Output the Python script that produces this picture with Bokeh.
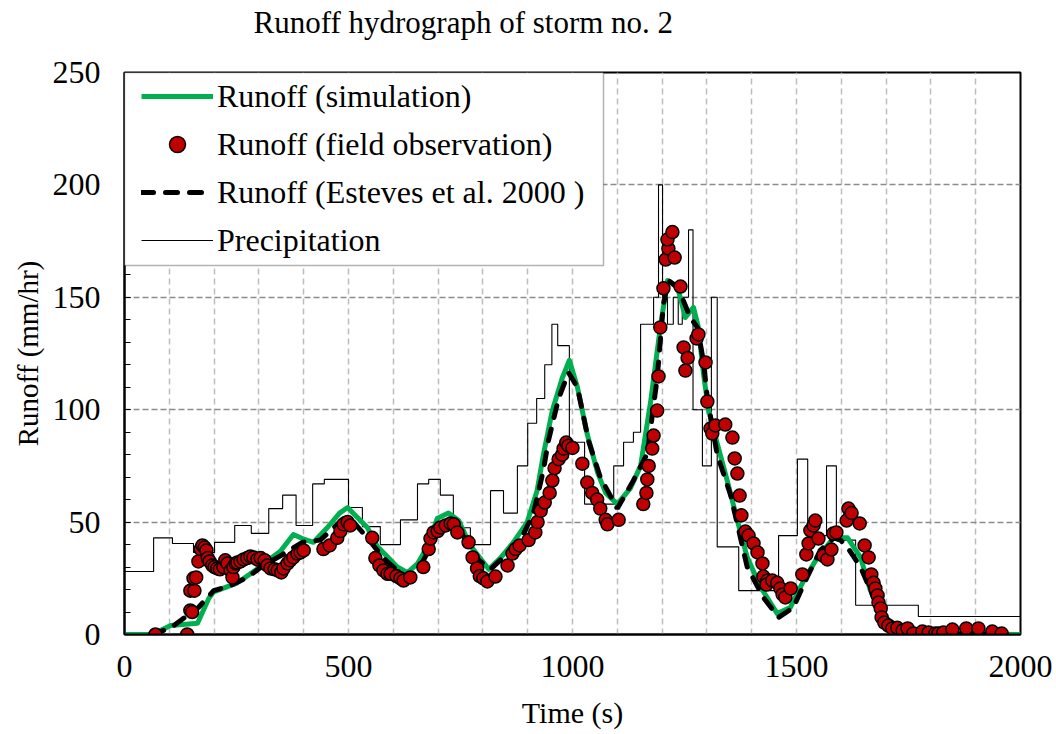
from bokeh.plotting import figure
from bokeh.models import FixedTicker, Legend, LegendItem, BoxAnnotation, Title
from bokeh.embed import file_html
from bokeh.resources import INLINE

# ---------------- data ----------------
precip_t = [0, 65, 107, 154, 201, 246, 283, 322, 353, 383, 420, 446, 500, 531, 571, 616, 654, 679, 705, 734,
            772, 817, 846, 877, 900, 920, 938, 954, 967, 993, 1027, 1092, 1114, 1136, 1152, 1181, 1192, 1201, 1212, 1225,
            1236, 1245, 1259, 1269, 1290, 1310, 1323, 1371, 1460, 1502, 1525, 1567, 1589, 1632, 1772, 2000]
precip_v = [28, 43, 40.5, 36.5, 41, 48.5, 45, 56, 62, 48.5, 67, 69, 56.5, 48, 40, 51, 67, 69, 62, 47.5,
            40, 64, 54, 75, 94, 105, 120, 138, 128.5, 85.5, 58, 75, 85.5, 90, 138, 150, 200, 150, 138, 150,
            138, 150, 180, 100, 75, 150, 39, 19.5, 44, 78, 44, 75, 42, 13, 8, 8]

sim_t = [0, 62, 103, 163, 188, 199, 252, 292, 310, 348, 377, 397, 422, 453, 480, 498, 520, 542, 565, 609,
         632, 654, 676, 698, 723, 746, 772, 813, 839, 868, 899, 921, 935, 955, 977, 993, 1011, 1033, 1056, 1074,
         1100, 1129, 1152, 1174, 1196, 1212, 1234, 1252, 1270, 1281, 1293, 1304, 1323, 1346, 1368, 1390, 1420, 1457, 1486, 1516,
         1547, 1583, 1614, 1643, 1665, 1694, 1725, 1777, 1850, 2000]
sim_v = [0, 0, 4, 5, 16, 19, 23, 28.5, 31.5, 37, 44.5, 42.7, 41, 47.6, 54, 56.5, 52, 47.6, 39, 30,
         27.5, 31.5, 39, 51.6, 54, 50.7, 39.6, 29, 34, 41, 50, 64, 80, 99.6, 114, 122, 110, 89, 72, 63,
         58, 65, 75, 103, 136.6, 157.5, 155, 141, 145.5, 136.6, 115, 99.6, 85, 68, 50.7, 34.3, 21, 9.3, 12, 24,
         34.3, 43, 43, 34.3, 19.6, 7.6, 4, 1, 0.3, 0]

est_t = [62, 103, 165, 199, 237, 274, 310, 348, 397, 437, 489, 511, 542, 578, 623, 638, 661, 679, 705, 728,
         750, 783, 817, 862, 884, 913, 935, 946, 969, 991, 1011, 1036, 1062, 1100, 1136, 1167, 1189, 1203, 1214, 1236,
         1263, 1279, 1293, 1301, 1323, 1353, 1390, 1426, 1460, 1493, 1520, 1553, 1583, 1598, 1614, 1643, 1672, 1703, 1748, 1815,
         1904, 1950]
est_v = [0, 3, 12, 19.5, 21.8, 25.4, 30.7, 35, 41, 42, 51.6, 50, 43, 34, 26, 25.4, 30.7, 37.4, 47.6, 50.7,
         46, 34.3, 29, 37.4, 42, 54, 73, 86, 105, 116.5, 110, 86, 70, 56, 68.5, 80.5, 114, 147, 157.5, 154,
         141, 136.6, 120.5, 105, 80, 62, 30, 16.5, 7.6, 12, 24, 37.4, 43, 42, 38.7, 30, 16.5, 6, 2.7, 0.5,
         0, 0]

obs_t = [69, 140, 147, 151, 147, 156, 154, 160, 165, 170, 174, 179, 183, 186, 190, 196, 201, 207, 213, 221,
         225, 230, 237, 241, 243, 248, 252, 259, 266, 274, 281, 288, 297, 304, 313, 319, 326, 335, 342, 350,
         355, 364, 370, 377, 386, 393, 400, 444, 458, 475, 482, 489, 498, 504, 553, 560, 569, 578, 587, 594,
         607, 616, 623, 638, 667, 679, 683, 690, 699, 705, 717, 728, 735, 743, 768, 777, 787, 793, 801, 810,
         828, 855, 866, 873, 882, 902, 917, 922, 929, 938, 949, 955, 960, 969, 977, 980, 986, 991, 1000, 1022,
         1033, 1044, 1055, 1062, 1074, 1078, 1103, 1158, 1165, 1167, 1170, 1178, 1181, 1189, 1192, 1196, 1203, 1208, 1214, 1212,
         1223, 1228, 1241, 1248, 1257, 1252, 1277, 1281, 1297, 1301, 1308, 1312, 1319, 1341, 1357, 1362, 1368, 1373, 1377, 1386,
         1393, 1404, 1413, 1424, 1426, 1435, 1433, 1446, 1457, 1464, 1469, 1475, 1487, 1513, 1522, 1527, 1531, 1538, 1542, 1549,
         1560, 1569, 1578, 1582, 1589, 1612, 1616, 1623, 1641, 1652, 1661, 1667, 1672, 1676, 1681, 1683, 1688, 1690, 1696, 1705,
         1714, 1725, 1737, 1748, 1761, 1781, 1795, 1810, 1817, 1828, 1848, 1879, 1906, 1937, 1958]
obs_v = [0, 0, 10.7, 10, 19.5, 19.5, 25, 25.4, 32.5, 38, 39.6, 38.7, 37.4, 34, 32.5, 30.7, 30, 29.4, 29, 30,
         33, 31.6, 28.5, 25.4, 30, 31.6, 32, 32.5, 33.4, 34, 34.7, 34.3, 33.4, 34, 33, 30.7, 29.4, 29, 28.5, 27.6,
         29.4, 31.6, 33, 34.3, 36, 36.5, 37.4, 38, 39.6, 43, 46, 49, 50, 48.5, 43, 34, 30.7, 28.5, 27, 27,
         26, 25, 24, 25.4, 30, 38, 42.7, 45.4, 46, 47.6, 48.5, 49.4, 49, 45.4, 41, 34.3, 29.4, 26, 25, 23.6,
         25.8, 30.7, 36, 38, 39.6, 42, 45.4, 50, 55, 58.7, 63, 68.5, 74, 78, 80, 82.7, 85.4, 84, 83, 76,
         67.6, 63, 60, 56, 51, 49, 51, 58, 63, 69, 75, 82.7, 88.5, 99.6, 114.8, 136.6, 154, 166.8, 171.7, 175.7,
         179, 167.7, 154.8, 127.7, 123, 117.4, 131.7, 133.5, 121, 103.6, 91.6, 89.4, 93, 93.4, 87.6, 78.3, 71.6, 61.8, 53, 45.8,
         44, 40.5, 36.5, 31.6, 25.8, 24, 22.2, 24, 23, 20.5, 17.8, 16.5, 20.5, 26.7, 35.6, 40.5, 46.3, 48.5, 50.7, 42.7,
         35, 33.4, 37.8, 44.9, 45.4, 50.7, 56, 54, 49.4, 39.6, 34.3, 26.7, 23, 20.5, 17.4, 14.2, 11.6, 7.6, 5.3, 4,
         2.7, 3, 1.8, 2.7, 0.5, 1.3, 0.9, 0.5, 0.5, 0.9, 2.2, 2.7, 2.7, 1.3, 0.4]

x_ticks = [0, 500, 1000, 1500, 2000]
y_ticks = [0, 50, 100, 150, 200, 250]
labels = ["Runoff (simulation)", "Runoff (field observation)", "Runoff (Esteves et al. 2000 )", "Precipitation"]
title_text = "Runoff hydrograph of storm no. 2"
x_title = "Time (s)"
y_title = "Runoff (mm/hr)"

FONT = "Liberation Serif"

p = figure(frame_width=896, frame_height=562,
           min_border_left=124, min_border_right=36, min_border_top=72, min_border_bottom=100,
           x_range=(0, 2000), y_range=(0, 250),
           output_backend="svg", toolbar_location=None,
           background_fill_color="white", border_fill_color="white")

# blank spacer panel between the frame and the title
p.add_layout(Title(text=" ", text_font_size="10px", standoff=18), "above")

# real title (outermost panel)
p.title.text = title_text
p.title.text_font = FONT
p.title.text_font_size = "31px"
p.title.text_font_style = "normal"
p.title.text_color = "black"
p.title.align = "left"
p.title.offset = 129
p.title.vertical_align = "top"
p.title.standoff = 0

# axes
p.xaxis.ticker = FixedTicker(ticks=x_ticks)
p.yaxis.ticker = FixedTicker(ticks=y_ticks, minor_ticks=list(range(0, 251, 10)))
for ax in (p.xaxis, p.yaxis):
    ax.axis_line_color = "black"
    ax.axis_line_width = 2
    ax.major_label_text_font = FONT
    ax.major_label_text_font_size = "32px"
    ax.major_label_text_color = "black"
    ax.axis_label_text_font = FONT
    ax.axis_label_text_font_size = "30px"
    ax.axis_label_text_font_style = "normal"
    ax.axis_label_text_color = "black"
p.yaxis.axis_label_text_font_size = "29px"
p.xaxis.major_tick_in = 0
p.xaxis.major_tick_out = 0
p.xaxis.minor_tick_in = 0
p.xaxis.minor_tick_out = 0
p.yaxis.major_tick_in = 6
p.yaxis.major_tick_out = 0
p.yaxis.minor_tick_in = 6
p.yaxis.minor_tick_out = 0
p.yaxis.major_tick_line_color = "black"
p.yaxis.minor_tick_line_color = "black"
p.xaxis.axis_label = x_title
p.yaxis.axis_label = y_title
p.xaxis.major_label_standoff = 21
p.xaxis.axis_label_standoff = 16
p.yaxis.major_label_standoff = 24
p.yaxis.axis_label_standoff = 6

# grids
p.xgrid.ticker = FixedTicker(ticks=list(range(100, 2000, 100)))
p.xgrid.grid_line_color = "#bdbdbd"
p.xgrid.grid_line_width = 1.5
p.xgrid.grid_line_dash = "6 4"
p.ygrid.ticker = FixedTicker(ticks=[50, 100, 150, 200])
p.ygrid.grid_line_color = "#8c8c8c"
p.ygrid.grid_line_width = 1.5
p.ygrid.grid_line_dash = "6 3"

p.outline_line_color = "black"
p.outline_line_width = 2
p.outline_line_alpha = 1

# glyphs
r_pr = p.step(x=precip_t, y=precip_v, mode="after", line_color="black", line_width=1.1)
r_sim = p.line(x=sim_t, y=sim_v, line_color="#00b050", line_width=5, line_join="round")
r_est = p.line(x=est_t, y=est_v, line_color="black", line_width=5, line_dash="12 12", line_cap="round")
r_obs = p.scatter(x=obs_t, y=obs_v, marker="circle", size=13, fill_color="#c00000",
                  line_color="black", line_width=1.5)

# legend box
box = BoxAnnotation(left=0, right=(603 - 124) / 0.448, bottom=(634 - 265) / 2.248, top=250,
                    fill_color="white", fill_alpha=1, line_color="black", line_width=1.5)
p.add_layout(box)

legend = Legend(items=[LegendItem(label=labels[0], renderers=[r_sim]),
                       LegendItem(label=labels[1], renderers=[r_obs]),
                       LegendItem(label=labels[2], renderers=[r_est]),
                       LegendItem(label=labels[3], renderers=[r_pr])],
                location=(17, 374), padding=0, margin=0, spacing=8,
                glyph_width=72, glyph_height=40, label_height=40, label_standoff=4,
                label_text_font=FONT, label_text_font_size="32px", label_text_color="black",
                border_line_alpha=0, background_fill_alpha=0)
p.add_layout(legend)

open("out.html", "w").write(file_html(p, INLINE))
